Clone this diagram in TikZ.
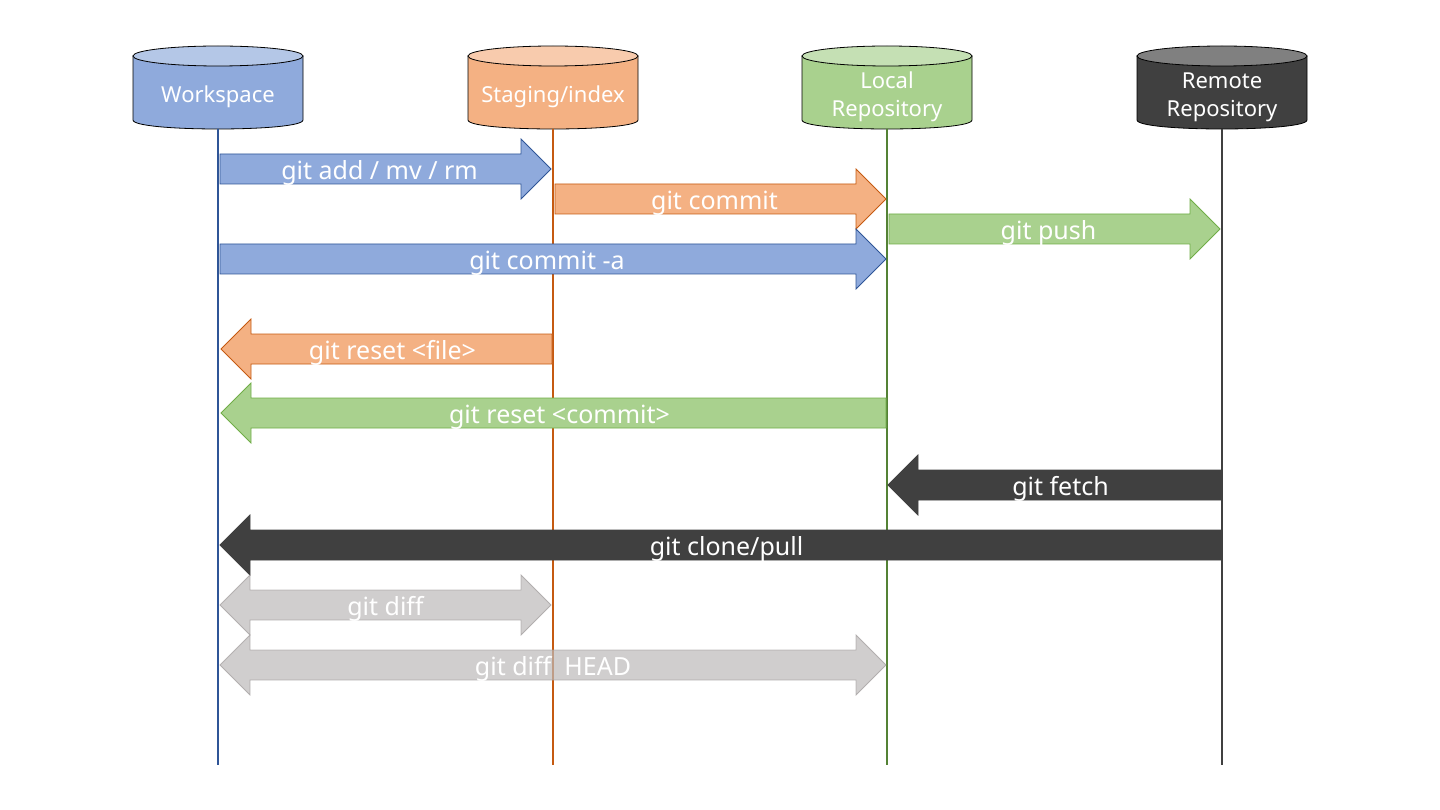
\documentclass[tikz,border=0pt]{standalone}
\usepackage{fontspec}
\setmainfont{Noto Sans}
\definecolor{wsfill}{HTML}{8FAADC}
\definecolor{wstop}{HTML}{B4C7E7}
\definecolor{wsline}{HTML}{2F5597}
\definecolor{stfill}{HTML}{F4B183}
\definecolor{sttop}{HTML}{F8CBAD}
\definecolor{stline}{HTML}{C55A11}
\definecolor{lrfill}{HTML}{A9D18E}
\definecolor{lrtop}{HTML}{C5E0B4}
\definecolor{lrline}{HTML}{548235}
\definecolor{lrborder}{HTML}{70AD47}
\definecolor{rrfill}{HTML}{404040}
\definecolor{rrtop}{HTML}{808080}
\definecolor{dffill}{HTML}{BCB9B9}
\definecolor{dfline}{HTML}{A09C9C}

% lifeline positions
\def\xws{218}
\def\xst{553}
\def\xlr{887}
\def\xrr{1222}

% cylinder: #1 name, #2 x, #3 body fill, #4 top fill, #5 label
\newcommand\repocyl[5]{%
  \draw[cylline, fill=#3] (#2-85,56) -- (#2-85,120)
     .. controls (#2-85,132) and (#2+85,132) .. (#2+85,120) -- (#2+85,56) -- cycle;
  \draw[cylline, fill=#4] (#2,56) ellipse [x radius=85, y radius=10];
  \node[cyltext] (#1) at (#2,97) {#5};
}
% right-pointing block arrow: #1 style, #2 tail x, #3 tip x, #4 y, #5 name, #6 label
\newcommand\rblock[6]{%
  \draw[#1] (#2,#4-15) -- (#3-30,#4-15) -- (#3-30,#4-30) -- (#3,#4)
     -- (#3-30,#4+30) -- (#3-30,#4+15) -- (#2,#4+15) -- cycle;
  \node[lbl] (#5) at ({(#2+#3)/2-6},#4+4) {#6};
}
% left-pointing block arrow: #1 style, #2 tip x, #3 tail x, #4 y, #5 name, #6 label
\newcommand\lblock[6]{%
  \draw[#1] (#3,#4-15) -- (#2+30,#4-15) -- (#2+30,#4-30) -- (#2,#4)
     -- (#2+30,#4+30) -- (#2+30,#4+15) -- (#3,#4+15) -- cycle;
  \node[lbl] (#5) at ({(#2+#3)/2+6},#4+4) {#6};
}
% double-headed block arrow
\newcommand\dblock[6]{%
  \draw[#1] (#2,#4) -- (#2+30,#4-30) -- (#2+30,#4-15) -- (#3-30,#4-15)
     -- (#3-30,#4-30) -- (#3,#4) -- (#3-30,#4+30) -- (#3-30,#4+15)
     -- (#2+30,#4+15) -- (#2+30,#4+30) -- cycle;
  \node[lbl] (#5) at ({(#2+#3)/2},#4+4) {#6};
}

\begin{document}
\begin{tikzpicture}[x=1pt,y=-1pt,
  cylline/.style={draw=black, line width=0.8pt},
  cyltext/.style={text=white, font=\fontsize{22}{28}\selectfont, align=center, inner sep=0pt},
  lbl/.style={text=white, font=\fontsize{25}{28}\selectfont, inner sep=0pt},
  wsarrow/.style={fill=wsfill, draw=wsline, line width=0.8pt},
  starrow/.style={fill=stfill, draw=stline, line width=0.8pt},
  lrarrow/.style={fill=lrfill, draw=lrborder, line width=0.8pt},
  rrarrow/.style={fill=rrfill, draw=rrfill, line width=0.8pt},
  dfarrow/.style={fill=dffill, draw=dfline, line width=0.8pt, opacity=0.7},
  lifeline/.style={line width=2.5pt}]
\useasboundingbox (0,0) rectangle (1440,810);

% repositories
\repocyl{ws}{\xws}{wsfill}{wstop}{Workspace}
\repocyl{st}{\xst}{stfill}{sttop}{Staging/index}
\repocyl{lr}{\xlr}{lrfill}{lrtop}{Local\\Repository}
\repocyl{rr}{\xrr}{rrfill}{rrtop}{Remote\\Repository}

% lifelines
\coordinate (wsend) at (\xws,765);
\coordinate (stend) at (\xst,765);
\coordinate (lrend) at (\xlr,765);
\coordinate (rrend) at (\xrr,765);
\draw[lifeline, draw=wsline] (ws |- 0,129) -- (wsend);
\draw[lifeline, draw=stline] (st |- 0,129) -- (stend);
\draw[lifeline, draw=lrline] (lr |- 0,129) -- (lrend);
\draw[lifeline, draw=rrfill] (rr |- 0,129) -- (rrend);

% commands between the areas
\rblock{wsarrow}{220}{551}{169}{add}{git add / mv / rm}
\rblock{starrow}{555}{886}{199}{commit}{git commit}
\rblock{lrarrow}{889}{1220}{229}{push}{git push}
\rblock{wsarrow}{220}{886}{259}{commita}{git commit -a}
\lblock{starrow}{221}{552}{349}{resetfile}{git reset <file>}
\lblock{lrarrow}{221}{886}{413}{resetcommit}{git reset <commit>}
\lblock{rrarrow}{888}{1221}{485}{fetch}{git fetch}
\lblock{rrarrow}{220}{1221}{545}{clone}{git clone/pull}
\dblock{dfarrow}{220}{551}{605}{diff}{git diff}
\dblock{dfarrow}{220}{886}{665}{diffhead}{git diff\ \ HEAD}
\end{tikzpicture}
\end{document}
